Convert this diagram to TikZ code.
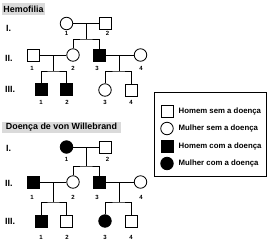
\documentclass[tikz,border=0pt]{standalone}
\usepackage{fontspec}
\setmainfont{Liberation Sans}
\definecolor{titlegray}{RGB}{218,218,218}
\tikzset{
  sym/.style={draw=black, line width=0.8pt, inner sep=0pt},
  male/.style={sym, rectangle, minimum size=12pt},
  female/.style={sym, circle, minimum size=12.5pt},
  aff/.style={fill=black},
  unaff/.style={fill=white},
  link/.style={draw=black, line width=1pt},
  num/.style={font=\bfseries\fontsize{6}{7}\selectfont, inner sep=0pt},
  gen/.style={font=\bfseries\fontsize{9}{10}\selectfont, inner sep=0pt, anchor=west},
  ttl/.style={fill=titlegray, inner sep=0pt, font=\bfseries\fontsize{8.9}{10}\selectfont},
  legtxt/.style={font=\bfseries\fontsize{7.8}{9}\selectfont, inner sep=0pt, anchor=west},
}
\begin{document}
\begin{tikzpicture}[x=1pt,y=-1pt]
\useasboundingbox (0,0) rectangle (268,242);
% ---------- Hemofilia ----------
\node[ttl, minimum width=43pt, minimum height=12pt] (t1) at (23.5,9) {Hemofilia};
\node[gen] (g1a) at (6,28) {I.};
\node[gen] (g1b) at (5,58) {II.};
\node[gen] (g1c) at (5,89) {III.};
% generation I
\node[female, unaff] (h11) at (66.5,23.5) {};
\node[male, unaff] (h12) at (105.5,23.5) {};
\node[num] (nh11) at (66.5,33) {1};
\node[num] (nh12) at (107.5,33) {2};
% generation II
\node[male, unaff] (h21) at (33.5,55) {};
\node[female, unaff] (h22) at (73,55) {};
\node[male, aff] (h23) at (99,55) {};
\node[female, unaff] (h24) at (140.5,55) {};
\node[num] (nh21) at (32,68) {1};
\node[num] (nh22) at (73,68) {2};
\node[num] (nh23) at (97,68) {3};
\node[num] (nh24) at (141,68) {4};
% generation III
\node[male, aff] (h31) at (41,89) {};
\node[male, aff] (h32) at (66,89) {};
\node[female, unaff] (h33) at (105,90) {};
\node[male, unaff] (h34) at (131,90) {};
\node[num] (nh31) at (41,102) {1};
\node[num] (nh32) at (67,102) {2};
\node[num] (nh33) at (105,102) {3};
\node[num] (nh34) at (131,102) {4};
% connectors
\draw[link] (h11) -- (h12);
\coordinate (hm1) at (86,23.5);
\coordinate (hs1) at (86,39);
\draw[link] (hm1) -- (hs1);
\draw[link] (h22.north) |- (hs1) -| (h23.north);
\draw[link] (h21) -- (h22);
\coordinate (hm2) at (53,55);
\coordinate (hs2) at (53,71);
\draw[link] (hm2) -- (hs2);
\draw[link] (h31.north) |- (hs2) -| (h32.north);
\draw[link] (h23) -- (h24);
\coordinate (hm3) at (119,55);
\coordinate (hs3) at (119,71);
\draw[link] (hm3) -- (hs3);
\draw[link] (h33.north) |- (hs3) -| (h34.north);
% ---------- von Willebrand ----------
\node[ttl, minimum width=119pt, minimum height=11.5pt] (t2) at (61.5,127.5) {Doença de von Willebrand};
\node[gen] (g2a) at (6,148) {I.};
\node[gen] (g2b) at (5,183) {II.};
\node[gen] (g2c) at (5,221) {III.};
% generation I
\node[female, aff] (w11) at (66.5,147) {};
\node[male, unaff] (w12) at (105.5,147) {};
\node[num] (nw11) at (66.5,159) {1};
\node[num] (nw12) at (107.5,159) {2};
% generation II
\node[male, aff] (w21) at (33.5,182) {};
\node[female, unaff] (w22) at (73,182) {};
\node[male, aff] (w23) at (99,182) {};
\node[female, unaff] (w24) at (140.5,182) {};
\node[num] (nw21) at (32,197) {1};
\node[num] (nw22) at (73,197) {2};
\node[num] (nw23) at (97,197) {3};
\node[num] (nw24) at (141,197) {4};
% generation III
\node[male, aff] (w31) at (41,221) {};
\node[male, unaff] (w32) at (66,221) {};
\node[female, aff] (w33) at (105,221) {};
\node[male, unaff] (w34) at (131,221) {};
\node[num] (nw31) at (41,237) {1};
\node[num] (nw32) at (67,237) {2};
\node[num] (nw33) at (105,237) {3};
\node[num] (nw34) at (131,237) {4};
% connectors
\draw[link] (w11) -- (w12);
\coordinate (wm1) at (86,147);
\coordinate (ws1) at (86,166);
\draw[link] (wm1) -- (ws1);
\draw[link] (w22.north) |- (ws1) -| (w23.north);
\draw[link] (w21) -- (w22);
\coordinate (wm2) at (53,182);
\coordinate (ws2) at (53,202);
\draw[link] (wm2) -- (ws2);
\draw[link] (w31.north) |- (ws2) -| (w32.north);
\draw[link] (w23) -- (w24);
\coordinate (wm3) at (119,182);
\coordinate (ws3) at (119,202);
\draw[link] (wm3) -- (ws3);
\draw[link] (w33.north) |- (ws3) -| (w34.north);
% ---------- legend ----------
\node[draw=black, line width=1.3pt, minimum width=112pt, minimum height=84pt, inner sep=0pt] (leg) at (210.5,134.5) {};
\node[male, unaff] (l1) at (167,111) {};
\node[female, unaff] (l2) at (167,128.5) {};
\node[male, aff] (l3) at (167,146) {};
\node[female, aff] (l4) at (167,163.5) {};
\node[legtxt] (lt1) at (178.5,111) {Homem sem a doença};
\node[legtxt] (lt2) at (178.5,128.5) {Mulher sem a doença};
\node[legtxt] (lt3) at (178.5,146) {Homem com a doença};
\node[legtxt] (lt4) at (178.5,163.5) {Mulher com a doença};
\end{tikzpicture}
\end{document}
